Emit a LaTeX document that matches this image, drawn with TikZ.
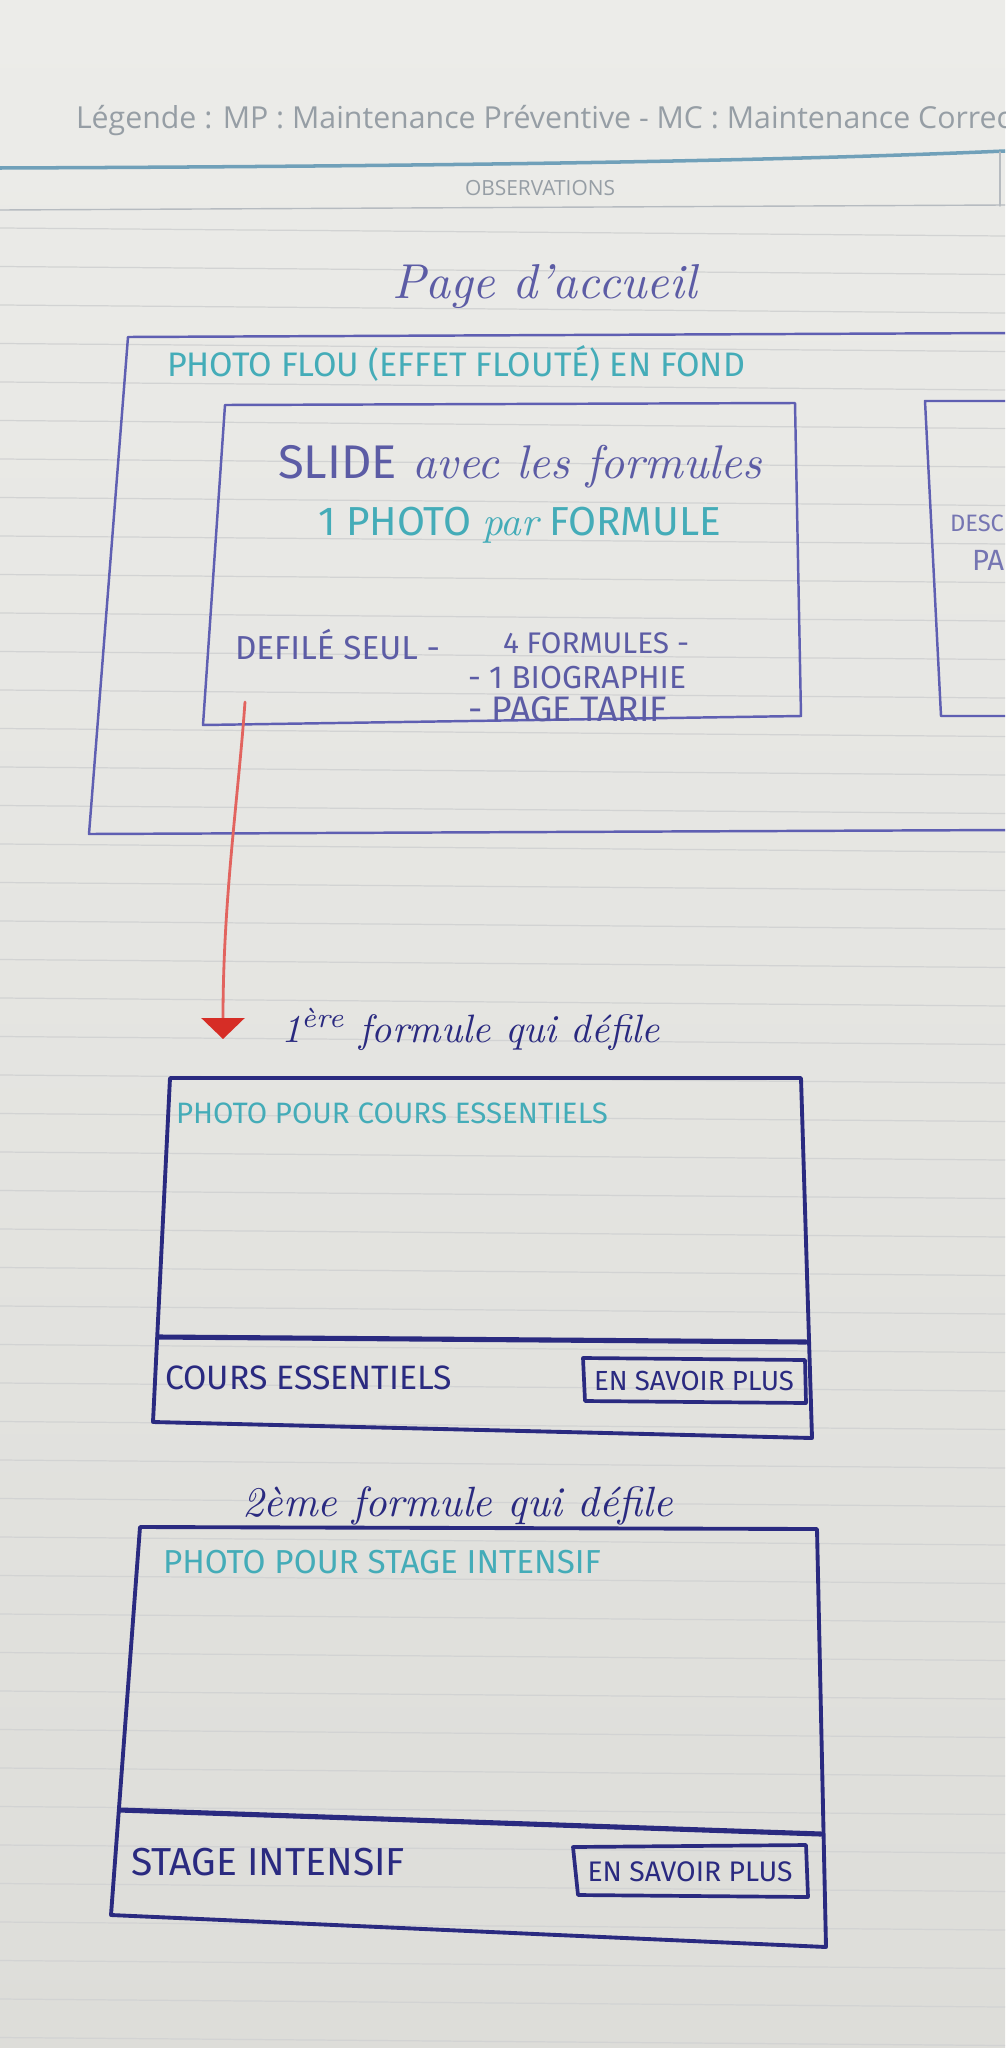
\documentclass[tikz,border=0pt]{standalone}
\usepackage{fontspec}
\usepackage{graphicx}
\usetikzlibrary{arrows.meta}
\newfontfamily\handcaps{Fira Sans}
\newfontfamily\printed{Open Sans}
\newlength\upx
\setlength\upx{0.02cm}
% fit a text to a given width (in drawing units)
\newcommand\fitw[2]{\resizebox{#1\upx}{!}{#2}}

\definecolor{paperTop}{RGB}{236,236,233}
\definecolor{paperBot}{RGB}{221,221,217}
\definecolor{ruling}{RGB}{210,211,211}
\definecolor{inkpale}{RGB}{95,95,178}
\definecolor{inktext}{RGB}{92,92,165}
\definecolor{inknavy}{RGB}{42,42,128}
\definecolor{inkcyan}{RGB}{68,172,184}
\definecolor{inkred}{RGB}{226,100,95}
\definecolor{inkredhead}{RGB}{214,45,38}
\definecolor{printgray}{RGB}{150,158,165}
\definecolor{printblue}{RGB}{112,160,185}

\tikzset{
  topframe/.style={draw=inkpale, line width=1.4pt},
  cardline/.style={draw=inknavy, line width=2.2pt},
  carddivider/.style={draw=inknavy, line width=2.9pt},
  btnline/.style={draw=inknavy, line width=2.1pt},
  redstroke/.style={draw=inkred, line width=1.6pt},
  lbl/.style={inner sep=0pt, outer sep=0pt},
}

\begin{document}
\begin{tikzpicture}[x=0.02cm, y=-0.02cm, line join=round, line cap=round]
\useasboundingbox (0,0) rectangle (1005,2048);
\clip (0,0) rectangle (1005,2048);

% paper
\shade[top color=paperTop, bottom color=paperBot] (0,0) rectangle (1005,2048);
\foreach \k in {-12,...,35}
  \draw[ruling, line width=0.7pt] (0,{690+38.5*\k}) -- (1005,{698+38.5*\k});

% printed header of the notebook page
\node[lbl, anchor=west, text=printgray] (legend) at (76,121)
  {\fitw{935}{\printed Légende : MP : Maintenance Préventive - MC : Maintenance Correc}};
\draw[printblue, line width=2pt] (0,168) .. controls (500,166) and (800,160) .. (1005,151);
\draw[printgray!70, line width=0.8pt] (0,210) -- (1005,205);
\draw[printgray!70, line width=0.8pt] (1000,152) -- (1000,206);
\node[lbl, text=printgray] (obs) at (540,188) {\fitw{150}{\printed OBSERVATIONS}};

% home page
\node[lbl, anchor=base west, text=inktext] (title) at (392,298)
  {\fitw{305}{\itshape Page d'accueil}};

\draw[topframe] (1010,333) -- (128,337) -- (89,834) -- (1010,830);
\node[lbl, anchor=west, text=inkcyan] (flou) at (167,363)
  {\fitw{578}{\handcaps PHOTO FLOU (EFFET FLOUTÉ) EN FOND}};

% slider box
\draw[topframe] (225,405) -- (795,403) -- (801,716) -- (203,725) -- cycle;
\node[lbl, anchor=base west, text=inktext] (slide) at (278,478)
  {\fitw{484}{{\handcaps SLIDE} {\itshape avec les formules}}};
\node[lbl, anchor=west, text=inkcyan] (photo) at (318,525)
  {\fitw{403}{\handcaps 1 PHOTO {\normalfont\itshape par} FORMULE}};
\node[lbl, anchor=west, text=inktext] (defile) at (235,645)
  {\fitw{205}{\handcaps DEFILÉ SEUL -}};
\node[lbl, anchor=west, text=inktext] (fourf) at (503,643)
  {\fitw{186}{\handcaps 4 FORMULES -}};
\node[lbl, anchor=west, text=inktext] (bio) at (468,678)
  {\fitw{218}{\handcaps - 1 BIOGRAPHIE}};
\node[lbl, anchor=west, text=inktext] (tarif) at (468,709)
  {\fitw{199}{\handcaps - PAGE TARIF}};

% next box on the right
\draw[topframe] (1010,401) -- (925,401) -- (941,716) -- (1010,716);
\node[lbl, anchor=west, text=inktext!85] (desc) at (950,523) {\fitw{54}{\handcaps DESC}};
\node[lbl, anchor=west, text=inktext!85] (pa) at (972,560) {\fitw{32}{\handcaps PA}};

% arrow to the first slide
\coordinate (arrowTail) at (245,702);
\coordinate (arrowTip) at (223,1039);
\draw[redstroke, -{Triangle[width=0.86cm, length=0.42cm, color=inkredhead, fill=inkredhead]}]
  (arrowTail) .. controls (238,800) and (223,900) .. (arrowTip);

% first slide
\node[lbl, anchor=base west, text=inknavy] (first) at (281,1042)
  {\fitw{379}{\itshape 1\textsuperscript{ère} formule qui défile}};
\draw[cardline] (170,1078) -- (801,1078) -- (812,1438) -- (153,1422) -- cycle;
\draw[carddivider] (159,1337) -- (806,1342);
\node[lbl, anchor=west, text=inkcyan] (photoA) at (176,1113)
  {\fitw{432}{\handcaps PHOTO POUR COURS ESSENTIELS}};
\node[lbl, anchor=west, text=inknavy] (coursA) at (165,1378)
  {\fitw{287}{\handcaps COURS ESSENTIELS}};
\draw[btnline] (583,1358) -- (805,1360) -- (806,1403) -- (585,1401) -- cycle;
\node[lbl, text=inknavy] (btnA) at (694,1381) {\fitw{200}{\handcaps EN SAVOIR PLUS}};

% second slide
\node[lbl, anchor=base west, text=inknavy] (second) at (242,1516)
  {\fitw{431}{\itshape 2ème formule qui défile}};
\draw[cardline] (140,1527) -- (817,1529) -- (826,1947) -- (111,1915) -- cycle;
\draw[carddivider] (120,1810) -- (821,1834);
\node[lbl, anchor=west, text=inkcyan] (photoB) at (163,1562)
  {\fitw{438}{\handcaps PHOTO POUR STAGE INTENSIF}};
\node[lbl, anchor=west, text=inknavy] (stageB) at (131,1862)
  {\fitw{274}{\handcaps STAGE INTENSIF}};
\draw[btnline] (573,1847) -- (806,1845) -- (808,1897) -- (578,1895) -- cycle;
\node[lbl, text=inknavy] (btnB) at (690,1872) {\fitw{205}{\handcaps EN SAVOIR PLUS}};
\end{tikzpicture}
\end{document}
